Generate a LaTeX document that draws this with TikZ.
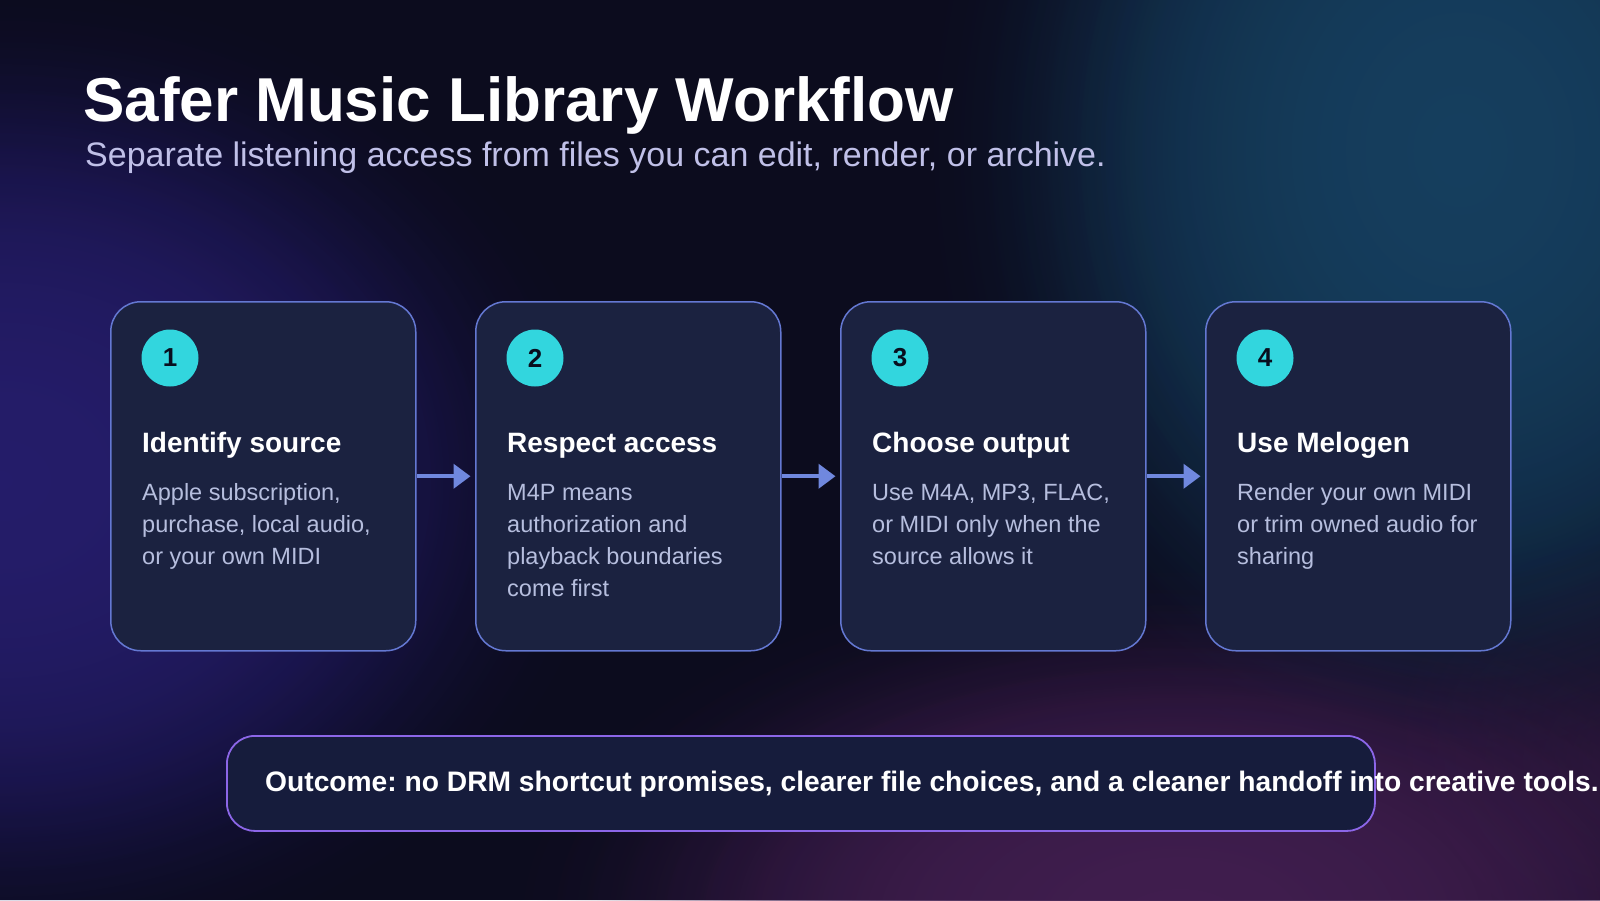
\documentclass[tikz,border=0pt]{standalone}
\usepackage{fontspec}
\setmainfont{Liberation Sans}
\usetikzlibrary{fadings,arrows.meta,calc}
\tikzfading[name=glowfade, inner color=transparent!0, outer color=transparent!100]
\definecolor{bgbase}{RGB}{12,12,30}
\definecolor{bgpurple}{RGB}{38,30,108}
\definecolor{bgteal}{RGB}{23,64,96}
\definecolor{bgmag}{RGB}{66,31,80}
\definecolor{cardfill}{RGB}{27,34,64}
\definecolor{cardborder}{RGB}{100,120,210}
\definecolor{arrowcol}{RGB}{112,136,222}
\definecolor{numfill}{RGB}{50,214,222}
\definecolor{numtext}{RGB}{8,14,30}
\definecolor{bodytext}{RGB}{182,190,222}
\definecolor{subtext}{RGB}{192,192,232}
\definecolor{outfill}{RGB}{22,28,60}
\definecolor{outborder}{RGB}{140,102,232}
\tikzset{
  glow/.style={path fading=glowfade, opacity=0.45},
  card/.style={draw=cardborder, line width=1.5pt, fill=cardfill, rounded corners=30pt,
    minimum width=305pt, minimum height=349pt, inner sep=0pt, anchor=north west},
  numcirc/.style={circle, fill=numfill, minimum size=57pt, inner sep=0pt, text=numtext,
    font=\bfseries\fontsize{26}{26}\selectfont},
  head/.style={anchor=base west, inner sep=0pt, text=white,
    font=\bfseries\fontsize{28}{32}\selectfont},
  body/.style={anchor=north west, inner sep=0pt, text=bodytext, align=left,
    font=\fontsize{23.5}{31.7}\selectfont},
  flow/.style={draw=arrowcol, line width=4pt, -{Triangle[length=17pt,width=24pt]}, shorten >=4.5pt},
  outbox/.style={draw=outborder, line width=1.8pt, fill=outfill, rounded corners=28pt,
    minimum width=1148pt, minimum height=95pt, inner sep=0pt, anchor=north west},
}
\frenchspacing
\begin{document}
\begin{tikzpicture}[x=1pt,y=-1pt]
\useasboundingbox (0,0) rectangle (1600,900);
\begin{scope}
\clip (0,0) rectangle (1600,900);
\fill[bgbase] (0,0) rectangle (1600,900);
\foreach \s in {1,0.95,0.9,0.85,0.8,0.75,0.7} {
  \fill[bgpurple, glow] (0,480) ellipse ({620*\s} and {500*\s});
  \fill[bgteal, glow] (1460,150) ellipse ({540*\s} and {650*\s});
  \fill[bgmag, glow] (1180,920) ellipse ({680*\s} and {360*\s});
}
\fill[bgmag, glow] (1640,760) ellipse (260 and 220);
\end{scope}

% title
\node[anchor=base west, inner sep=0pt, text=white, font=\bfseries\fontsize{62}{70}\selectfont] (title) at (83,121) {Safer Music Library Workflow};
\node[anchor=base west, inner sep=0pt, text=subtext, font=\fontsize{34}{40}\selectfont] (subtitle) at (85,166) {Separate listening access from files you can edit, render, or archive.};

% cards
\node[card] (c1) at (110,301) {};
\node[card] (c2) at (475,301) {};
\node[card] (c3) at (840,301) {};
\node[card] (c4) at (1205,301) {};

\node[numcirc] (n1) at ($(c1.north west)+(60,57)$) {1};
\node[numcirc] (n2) at ($(c2.north west)+(60,57)$) {2};
\node[numcirc] (n3) at ($(c3.north west)+(60,57)$) {3};
\node[numcirc] (n4) at ($(c4.north west)+(60,57)$) {4};

\node[head] (h1) at ($(c1.north west)+(32,151)$) {Identify source};
\node[head] (h2) at ($(c2.north west)+(32,151)$) {Respect access};
\node[head] (h3) at ($(c3.north west)+(32,151)$) {Choose output};
\node[head] (h4) at ($(c4.north west)+(32,151)$) {Use Melogen};

\node[body] (b1) at ($(c1.north west)+(32,177.5)$) {\strut Apple subscription,\\purchase, local audio,\\or your own MIDI};
\node[body] (b2) at ($(c2.north west)+(32,177.5)$) {\strut M4P means\\authorization and\\playback boundaries\\come first};
\node[body] (b3) at ($(c3.north west)+(32,177.5)$) {\strut Use M4A, MP3, FLAC,\\or MIDI only when the\\source allows it};
\node[body] (b4) at ($(c4.north west)+(32,177.5)$) {\strut Render your own MIDI\\or trim owned audio for\\sharing};

\draw[flow] (c1.east) -- (c2.west);
\draw[flow] (c2.east) -- (c3.west);
\draw[flow] (c3.east) -- (c4.west);

% outcome
\node[outbox] (ob) at (226,735) {};
\node[anchor=base west, inner sep=0pt, text=white, font=\bfseries\fontsize{28.2}{32}\selectfont] (ot) at (265,791) {Outcome: no DRM shortcut promises, clearer file choices, and a cleaner handoff into creative tools.};
\end{tikzpicture}
\end{document}
